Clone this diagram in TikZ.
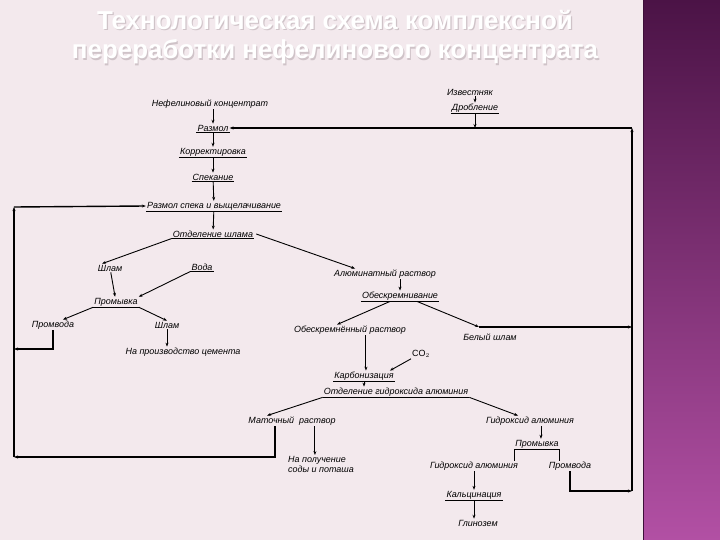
\documentclass[tikz,border=0pt]{standalone}
\usepackage{fontspec}
\setmainfont{Liberation Sans}
\usetikzlibrary{arrows.meta,calc}
\definecolor{bgpink}{HTML}{F3E9ED}
\definecolor{bandtop}{HTML}{4B1346}
\definecolor{bandbot}{HTML}{B250A4}
\definecolor{shadowgray}{HTML}{CFC3C8}
\tikzset{
  lbl/.style={font=\fontsize{9}{10.5}\selectfont\itshape, inner sep=1pt, text=black},
  op/.style={lbl, append after command={(\tikzlastnode.south west) edge[line width=0.9pt] (\tikzlastnode.south east)}},
  flow/.style={-{Stealth[length=4pt,width=3pt]}, line width=0.9pt},
  loopline/.style={flow, line width=1.4pt},
  plain/.style={line width=0.9pt},
  title/.style={font=\fontsize{26}{30}\selectfont\bfseries, inner sep=0pt},
}

\begin{document}
\begin{tikzpicture}[x=1bp,y=-1bp]
  \useasboundingbox (0,0) rectangle (720,540);
  % Background and side band
  \fill[bgpink] (0,0) rectangle (720,540);
  \shade[top color=bandtop, bottom color=bandbot] (643,0) rectangle (720,540);
  \draw[bandtop!80!black, line width=1.5pt] (643.5,0) -- (643.5,540);

  % Title
  \node[title, text=shadowgray] at (336.2,21.2) {Технологическая схема комплексной};
  \node[title, text=shadowgray] at (336.2,53.2) {переработки нефелинового концентрата};
  \node[title, text=white] (title1) at (335,20) {Технологическая схема комплексной};
  \node[title, text=white] (title2) at (335,52) {переработки нефелинового концентрата};

  % Upper chain
  \node[lbl] (izv) at (470,92) {Известняк};
  \node[op] (drob) at (475,108) {Дробление};
  \node[lbl] (nef) at (210,104) {Нефелиновый концентрат};
  \node[op] (razm) at (213,128) {Размол};
  \node[op] (korr) at (213,152) {Корректировка};
  \node[op] (spek) at (213,177) {Спекание};
  \node[op] (razsp) at (214,206) {Размол спека и выщелачивание};
  \node[op] (otsh) at (213,234) {Отделение шлама};

  % Sludge branch
  \node[lbl] (shl1) at (110,268) {Шлам};
  \node[op] (voda) at (202,267) {Вода};
  \node[op] (prom1) at (116,302) {Промывка};
  \node[lbl] (promv1) at (53,325) {Промвода};
  \node[lbl] (shl2) at (167,325) {Шлам};
  \node[lbl] (cem) at (183,352) {На производство цемента};

  % Aluminate branch
  \node[lbl] (alum) at (385,274) {Алюминатный раствор};
  \node[op] (obes) at (400,296) {Обескремнивание};
  \node[lbl] (obesr) at (350,330) {Обескремнённый раствор};
  \node[lbl] (bel) at (490,337) {Белый шлам};
  \node[lbl, font=\fontsize{9}{10.5}\selectfont] (co2) at (421,354) {CO$_2$};
  \node[op] (karb) at (364,376) {Карбонизация};
  \node[op] (otgid) at (396,392) {Отделение гидроксида алюминия};
  \node[lbl] (mat) at (292,421) {Маточный\ \ раствор};
  \node[lbl] (gid1) at (530,421) {Гидроксид алюминия};
  \node[op] (prom2) at (537,444) {Промывка};
  \node[lbl, align=left, anchor=north west] (soda) at (287,455) {На получение\\соды и поташа};
  \node[lbl] (gid2) at (474,466) {Гидроксид алюминия};
  \node[lbl] (promv2) at (570,466) {Промвода};
  \node[op] (kalc) at (474,495) {Кальцинация};
  \node[lbl] (glin) at (478,523) {Глинозем};

  % Loop corners
  \coordinate (tr) at (632,128);
  \coordinate (mr) at (632,327);
  \coordinate (br) at (632,491);
  \coordinate (tl) at (14,207);
  \coordinate (lv) at (14,349);
  \coordinate (bl) at (14,457);
  \coordinate (belin) at (479,327);

  % Main chain arrows
  \draw[flow] (izv.south -| drob) -- (drob.north);
  \draw[flow] (drob.south) -- (drob.south |- tr);
  \draw[flow] (razm.north |- nef.south) -- (razm.north);
  \draw[flow] (razm) -- (korr);
  \draw[flow] (korr) -- (spek);
  \draw[flow] (spek) -- (razsp);
  \draw[flow] (razsp) -- (otsh);
  \draw[flow] (otsh.south west) -- ([xshift=-8]shl1.north);
  \draw[flow] ([xshift=2]otsh.east) -- ([xshift=-30]alum.north);

  \draw[flow] (shl1) -- (prom1);
  \draw[flow] (voda.south west) -- (prom1.north east);
  \draw[flow] (prom1.south west) -- ([xshift=10]promv1.north);
  \draw[flow] (prom1.south east) -- (shl2.north);
  \draw[flow] (shl2) -- (shl2 |- cem.north);

  \draw[flow] (obes.north |- alum.south) -- (obes.north);
  \draw[flow] ([xshift=-10]obes.south) -- ([xshift=-13]obesr.north);
  \draw[flow] ([xshift=17]obes.south) -- (belin);
  \draw[flow] ([xshift=16]obesr.south) -- ([xshift=16]obesr.south |- karb.north);
  \draw[flow] (co2.south west) -- ([xshift=26]karb.north);
  \draw[flow] (karb) -- (karb |- otgid.north);
  \draw[flow] (otgid.south west) -- ([xshift=-25]mat.north);
  \draw[flow] (otgid.south east) -- ([xshift=-12]gid1.north);
  \draw[flow] ([xshift=23]mat.south) -- ([xshift=23]mat.south |- soda.north);
  \draw[flow] ([xshift=11]gid1.south) -- ([xshift=11]gid1.south |- prom2.north);
  \draw[plain] (prom2.south west) -- (prom2.south west |- gid2.north);
  \draw[plain] (prom2.south east) -- (prom2.south east |- promv2.north);
  \draw[flow] (gid2.south -| kalc) -- (kalc.north);
  \draw[flow] (kalc.south) -- (kalc.south |- glin.north);

  % Recycle loops
  \draw[loopline] (belin) -- (mr);
  \draw[loopline] (promv2.south) |- (br);
  \draw[loopline] (br) -- (tr);
  \draw[loopline] (tr) -- (razm.east);
  \draw[loopline] (promv1.south) |- (lv);
  \draw[loopline] ([xshift=-17]mat.south) |- (bl);
  \draw[loopline] (bl) -- (tl);
  \draw[loopline] (tl) -- (razsp.west);
\end{tikzpicture}
\end{document}
